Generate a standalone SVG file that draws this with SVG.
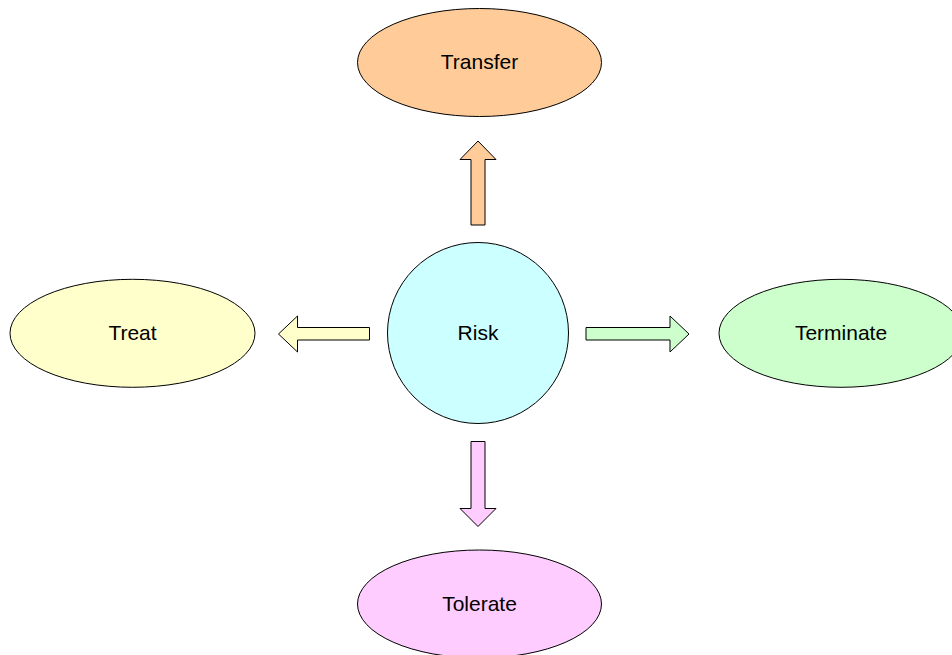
<svg xmlns="http://www.w3.org/2000/svg" width="952" height="655" viewBox="0 0 952 655">
<style>
.n{stroke:#000;stroke-width:1}
.a{stroke:#000;stroke-width:1;stroke-linejoin:miter}
text{font-family:"Liberation Sans",Arial,sans-serif;font-size:21px;fill:#000;text-anchor:middle}
</style>
<rect width="952" height="655" fill="#fff"/>
<g id="connectors">
<polygon id="arrow-transfer" class="a" fill="#FFCC99" points="471,225 471,159.5 460,159.5 478,141 496,159.5 485,159.5 485,225"/>
<polygon id="arrow-tolerate" class="a" fill="#FFCCFF" points="471,441.5 471,508.5 460,508.5 478,526.5 496,508.5 485,508.5 485,441.5"/>
<polygon id="arrow-treat" class="a" fill="#FFFFCC" points="369.5,327.5 297.5,327.5 297.5,316 278.5,334 297.5,352 297.5,340 369.5,340"/>
<polygon id="arrow-terminate" class="a" fill="#CCFFCC" points="586,327.5 670,327.5 670,316 689,334 670,352 670,340 586,340"/>
</g>
<g id="risk">
<circle class="n" cx="478" cy="333" r="90.5" fill="#CCFFFF"/>
<text x="478" y="339.5">Risk</text>
</g>
<g id="transfer">
<ellipse class="n" cx="479.5" cy="62.5" rx="122" ry="54" fill="#FFCC99"/>
<text x="479.5" y="69">Transfer</text>
</g>
<g id="tolerate">
<ellipse class="n" cx="479.5" cy="604" rx="122" ry="54" fill="#FFCCFF"/>
<text x="479.5" y="610.5">Tolerate</text>
</g>
<g id="treat">
<ellipse class="n" cx="132.5" cy="333.3" rx="122.5" ry="54" fill="#FFFFCC"/>
<text x="132.5" y="339.8">Treat</text>
</g>
<g id="terminate">
<ellipse class="n" cx="841" cy="333.3" rx="122" ry="54" fill="#CCFFCC"/>
<text x="841" y="339.8">Terminate</text>
</g>
</svg>
